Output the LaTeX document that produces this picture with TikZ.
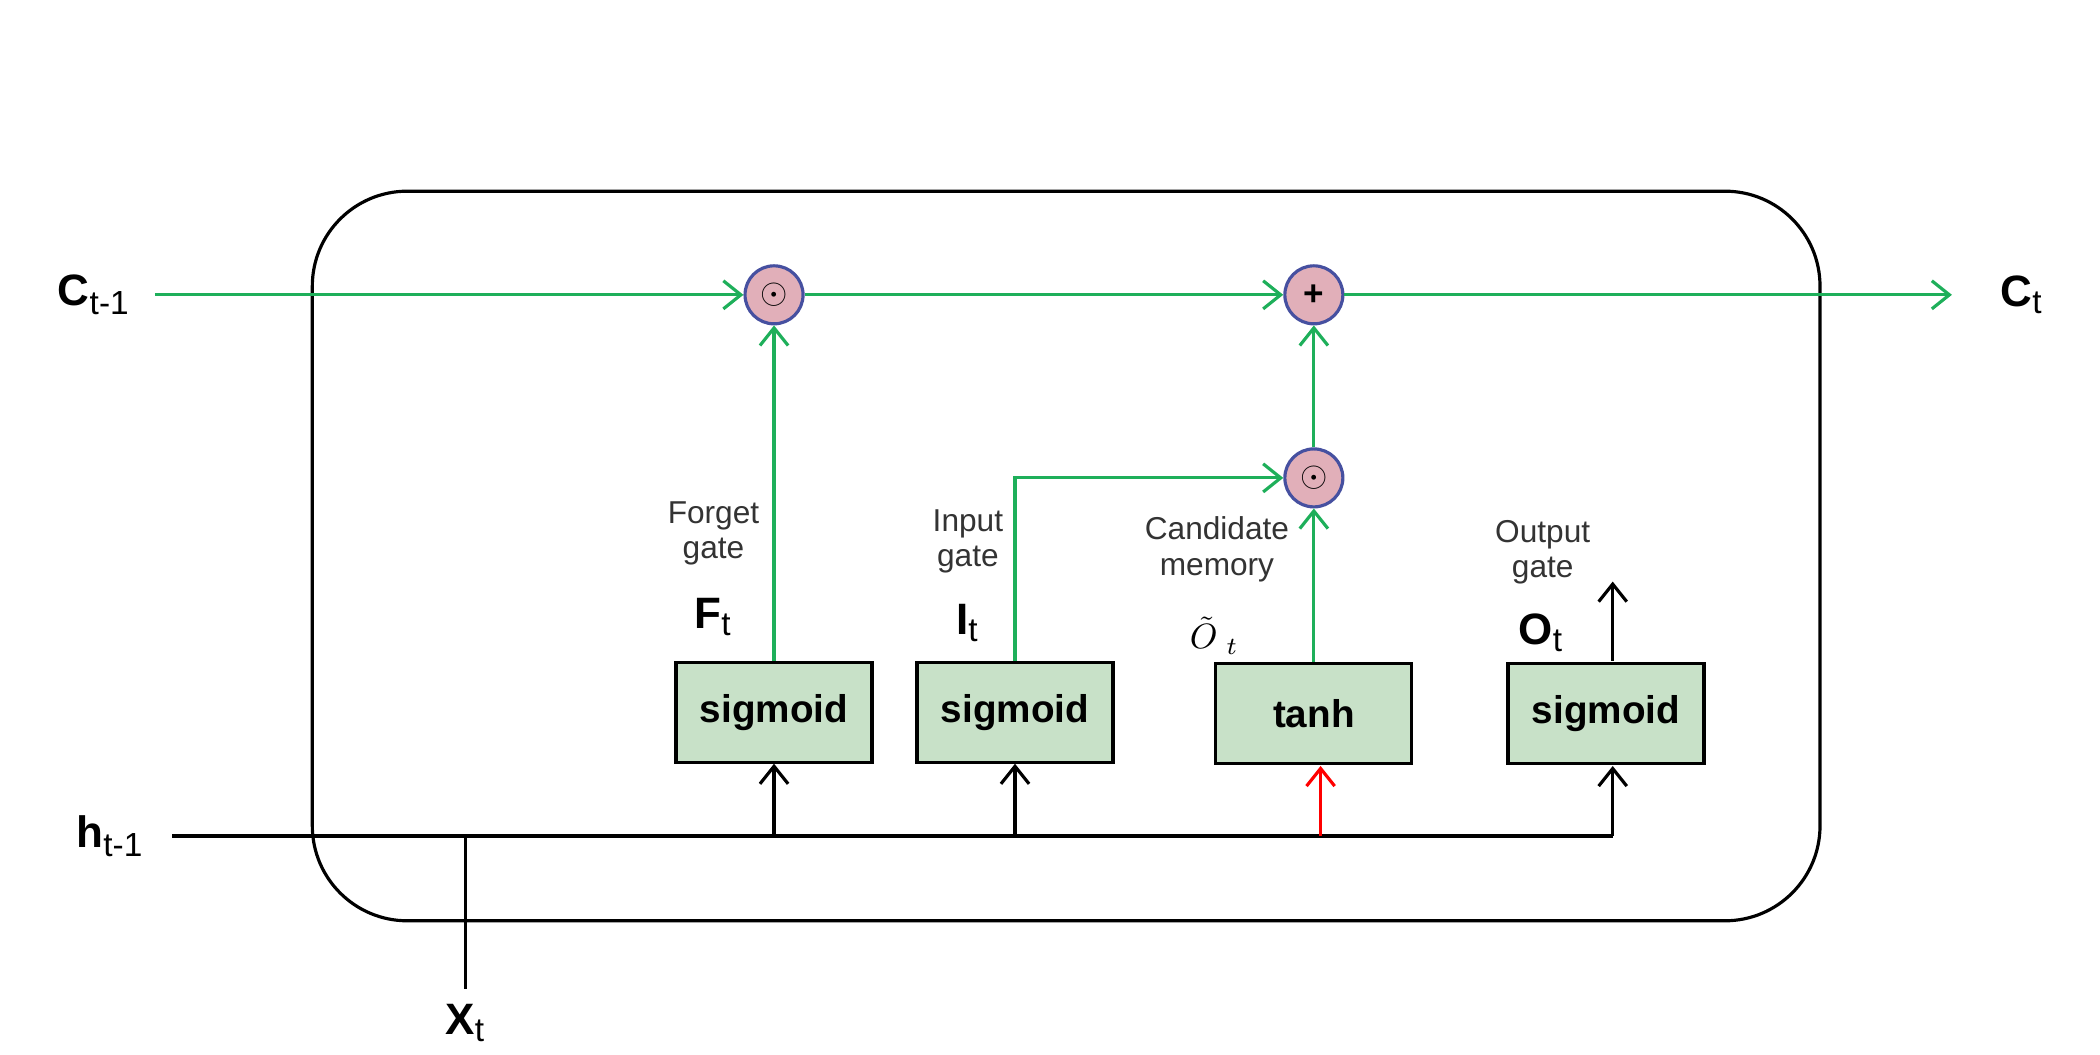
\documentclass[tikz,border=0pt]{standalone}
\usepackage{fontspec}
\setmainfont{Liberation Sans}
\usetikzlibrary{arrows.meta}
\definecolor{gline}{RGB}{30,175,90}
\definecolor{boxfill}{RGB}{200,225,200}
\definecolor{opfill}{RGB}{225,175,185}
\definecolor{opline}{RGB}{70,80,160}
\newcommand{\sbs}[1]{\textsubscript{\mdseries\fontsize{9.5}{11}\selectfont #1}}
\begin{document}
\begin{tikzpicture}[x=0.013462cm,y=-0.013462cm,
  gl/.style={draw=gline,line width=0.9pt},
  bl/.style={draw=black,line width=0.9pt},
  arr/.style={-{Straight Barb[length=5pt,width=8pt]}},
  box/.style={draw=black,line width=0.9pt,fill=boxfill,minimum width=1.96cm,minimum height=1.0cm,inner sep=0pt,font=\bfseries\fontsize{11}{13}\selectfont},
  op/.style={circle,draw=opline,line width=0.9pt,fill=opfill,minimum size=0.58cm,inner sep=0pt},
  lab/.style={font=\fontsize{9}{11}\selectfont,align=center,text=black!80},
  sym/.style={font=\bfseries\fontsize{12.5}{14}\selectfont}]
\useasboundingbox (0,0) rectangle (1560,783);
\draw[line width=0.9pt,rounded corners=0.95cm] (232,142) rectangle (1352,684);
% nodes
\node[box] (s1) at (575,529) {sigmoid};
\node[box] (s2) at (754,529) {sigmoid};
\node[box] (th) at (976,530) {tanh};
\node[box] (s3) at (1193,530) {sigmoid};
\node[op] (m1) at (575,219) {$\odot$};
\node[op] (pl) at (976,219) {\textbf{+}};
\node[op] (m2) at (976,355) {$\odot$};
\node[sym] (cin) at (70,219) {C\sbs{t-1}};
\node[sym] (cout) at (1502,219) {C\sbs{t}};
\node[sym] (hin) at (82,621) {h\sbs{t-1}};
\node[sym] (xt) at (346,760) {X\sbs{t}};
\coordinate (cstart) at (115,219);
\coordinate (cend) at (1450,219);
\coordinate (hstart) at (128,621);
\coordinate (xj) at (346,621);
\coordinate (xb) at (346,735);
\coordinate (hend) at (1198,621);
\coordinate (oend) at (1198,432);
% cell line
\draw[gl,arr] (cstart) -- (m1);
\draw[gl,arr] (m1) -- (pl);
\draw[gl,arr] (pl) -- (cend);
\draw[gl,arr] (s1.north) -- (m1);
\draw[gl,arr] (s2.north) |- (m2);
\draw[gl,arr] (th.north) -- (m2);
\draw[gl,arr] (m2) -- (pl);
% hidden input
\draw[bl] (hstart) -- (hend);
\draw[bl] (xj) -- (xb);
\draw[bl,arr] (575,621) -- (s1.south);
\draw[bl,arr] (754,621) -- (s2.south);
\draw[draw=red,line width=0.9pt,arr] (981,621) -- (981,569);
\draw[bl,arr] (hend) -- (1198,569);
\draw[bl,arr] (1198,491) -- (oend);
% labels
\node[lab] (l1) at (530,396) {Forget\\[-1pt]gate};
\node[sym] (f) at (530,458) {F\sbs{t}};
\node[lab] (l2) at (719,402) {Input\\[-1pt]gate};
\node[sym] (i) at (719,463) {I\sbs{t}};
\node[lab] (l3) at (904,408) {Candidate\\[-1pt]memory};
\node[inner sep=1pt] (ot) at (902,472) {$\tilde{O}_{\ t}$};
\node[lab] (l4) at (1146,410) {Output\\[-1pt]gate};
\node[sym] (o) at (1145,470) {O\sbs{t}};
\end{tikzpicture}
\end{document}
